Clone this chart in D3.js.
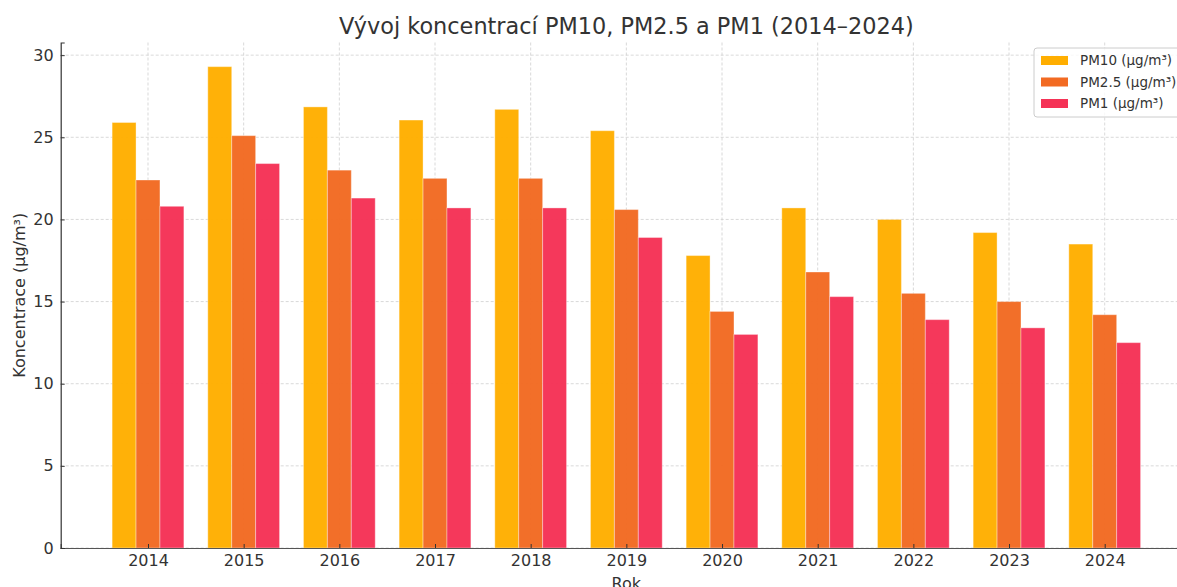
<!DOCTYPE html>
<html><head><meta charset="utf-8">
<script src="https://cdn.jsdelivr.net/npm/d3@7"></script>
<style>body{margin:0;background:#fff}svg{display:block;font-family:"DejaVu Sans",sans-serif}</style>
</head><body><svg id="c" width="1177" height="587"></svg>
<script>
const years = ["2014","2015","2016","2017","2018","2019","2020","2021","2022","2023","2024"];
const pm10 = [25.9,29.3,26.85,26.05,26.7,25.4,17.8,20.7,20.0,19.2,18.5];
const pm25 = [22.4,25.1,23.0,22.5,22.5,20.6,14.4,16.8,15.5,15.0,14.2];
const pm1  = [20.8,23.4,21.3,20.7,20.7,18.9,13.0,15.3,13.9,13.4,12.5];
const seriesNames = ["PM10 (µg/m³)","PM2.5 (µg/m³)","PM1 (µg/m³)"];
const colors = ["#FFAE00","#F26A22","#F53256"];
const yTicks = [0,5,10,15,20,25,30];

const series = [pm10, pm25, pm1];
const svg = d3.select("#c");
const L = 60.7, R = 1192, T = 42.5, B = 548;
const bw = 0.25;
const x = d3.scaleLinear().domain([-0.9125, 10.9125]).range([L, R]);
const y = d3.scaleLinear().domain([0, 30.77]).range([B, T]);

const g = svg.append("g");
// grid
g.selectAll(".gy").data(yTicks).join("line")
  .attr("x1", L).attr("x2", R).attr("y1", d=>y(d)).attr("y2", d=>y(d))
  .attr("stroke","#cfcfcf").attr("stroke-width",0.8).attr("stroke-dasharray","3,2");
g.selectAll(".gx").data(years).join("line")
  .attr("x1",(d,i)=>x(i)).attr("x2",(d,i)=>x(i)).attr("y1",T).attr("y2",B)
  .attr("stroke","#cfcfcf").attr("stroke-width",0.8).attr("stroke-dasharray","3,2");

// bars
series.forEach((s, si) => {
  g.selectAll(".b"+si).data(s).join("rect")
    .attr("x", (d,i)=>x(i + (si-1)*bw - bw/2))
    .attr("width", x(bw) - x(0))
    .attr("y", d=>y(d)).attr("height", d=>B - y(d))
    .attr("fill", colors[si]).attr("fill-opacity",0.97)
    .attr("stroke", "#fff").attr("stroke-opacity",0.35).attr("stroke-width",1);
});

// axes
const xa = svg.append("g").attr("transform",`translate(0,${B})`)
  .call(d3.axisBottom(x).tickValues(d3.range(years.length)).tickFormat(i=>years[i]).tickSize(-4).tickPadding(7));
xa.select(".domain").attr("stroke","#555").attr("stroke-width",1.2);
const ya = svg.append("g").attr("transform",`translate(${L},0)`)
  .call(d3.axisLeft(y).tickValues(yTicks).tickSize(-4).tickPadding(7));
ya.select(".domain").attr("stroke","#333").attr("stroke-width",1.2);
svg.selectAll(".tick text").attr("font-size",16).attr("fill","#333").attr("font-family","DejaVu Sans");
svg.selectAll(".tick line").attr("stroke","#333");
xa.selectAll(".tick text").attr("dy","0.71em");

// title & labels
svg.append("text").attr("x",(L+R)/2).attr("y",34).attr("text-anchor","middle")
  .attr("font-size",22.4).attr("fill","#333").text("Vývoj koncentrací PM10, PM2.5 a PM1 (2014–2024)");
svg.append("text").attr("x",(L+R)/2).attr("y",589).attr("text-anchor","middle")
  .attr("font-size",16).attr("fill","#333").text("Rok");
svg.append("text").attr("transform",`translate(25,${(T+B)/2}) rotate(-90)`).attr("text-anchor","middle")
  .attr("font-size",16).attr("fill","#333").text("Koncentrace (µg/m³)");

// legend
const lg = svg.append("g").attr("transform","translate(1034,48)");
lg.append("rect").attr("x",0).attr("y",0).attr("width",160).attr("height",69).attr("rx",3)
  .attr("fill","#fff").attr("fill-opacity",0.8).attr("stroke","#ccc");
seriesNames.forEach((n,i)=>{
  lg.append("rect").attr("x",7).attr("y",8+i*21.5).attr("width",27).attr("height",9).attr("fill",colors[i]);
  lg.append("text").attr("x",46).attr("y",17+i*21.5).attr("font-size",13.5).attr("fill","#333").text(n);
});
</script></body></html>
